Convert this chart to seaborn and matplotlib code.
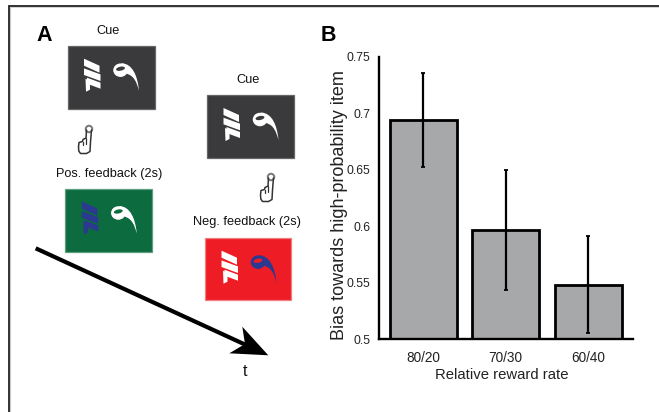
import matplotlib
matplotlib.use("Agg")
import matplotlib.pyplot as plt
import pandas as pd
import seaborn as sns
from matplotlib.patches import Ellipse, PathPatch, Polygon, Rectangle
from matplotlib.path import Path

# panel B values
categories = ["80/20", "70/30", "60/40"]
bias = [0.694, 0.597, 0.548]
err_low = [0.6525, 0.544, 0.506]
err_high = [0.736, 0.650, 0.591]
y_ticks = [0.5, 0.55, 0.6, 0.65, 0.7, 0.75]
y_tick_labels = ["0.5", "0.55", "0.6", "0.65", "0.7", "0.75"]

W, H = 659, 412
DARK = "#3a3a3c"
GREEN = "#0c6b3f"
RED = "#ee1c25"
BLUE = "#2b3990"
WHITE = "#ffffff"

sns.set_style("white")
plt.rcParams["font.family"] = ["Liberation Sans", "DejaVu Sans"]

fig = plt.figure(figsize=(W / 100, H / 100), dpi=100)
bg = fig.add_axes([0, 0, 1, 1])
bg.set_xlim(0, W)
bg.set_ylim(H, 0)
bg.axis("off")


def stimulus(x, y, w, h, face, left, right, edge):
    bg.add_patch(Rectangle((x, y), w, h, facecolor=face, edgecolor=edge, lw=0.9))
    # left glyph: three slanted strokes and a foot
    strokes = [((16.5, 16.5), (32, 23.5), 3.5), ((16.5, 26), (33, 32), 3.3), ((19.5, 35), (33, 40), 3.0)]
    for (x0, y0), (x1, y1), t in strokes:
        bg.add_patch(Polygon([(x + x0, y + y0 - t), (x + x1, y + y1 - t), (x + x1, y + y1 + t), (x + x0, y + y0 + t)],
                             facecolor=left, edgecolor="none"))
    bg.add_patch(Polygon([(x + 18, y + 33), (x + 22.5, y + 35), (x + 22.5, y + 44), (x + 18.5, y + 46)],
                         facecolor=left, edgecolor="none"))
    # right glyph: ring with a curved tail
    verts = [(x + 54, y + 17.5), (x + 65, y + 18), (x + 70, y + 30), (x + 71.5, y + 45),
             (x + 69, y + 36), (x + 66.5, y + 30), (x + 59, y + 28), (x + 54, y + 17.5)]
    codes = [Path.MOVETO, Path.CURVE4, Path.CURVE4, Path.CURVE4, Path.CURVE4, Path.CURVE4, Path.CURVE4, Path.CLOSEPOLY]
    bg.add_patch(PathPatch(Path(verts, codes), facecolor=right, edgecolor="none"))
    bg.add_patch(Ellipse((x + 53, y + 24.5), 14.5, 13.5, facecolor=right, edgecolor="none"))
    bg.add_patch(Ellipse((x + 53, y + 23), 9, 4, angle=-12, facecolor=face, edgecolor="none"))


def hand(x, y):
    outline = [(8.5, 5), (8, 13), (5, 14.5), (4.5, 16.5), (1, 17.5), (0.5, 22), (0.8, 26), (2.5, 28.5), (8.5, 28.5),
               (12, 26.5), (12.5, 17), (13.5, 5)]
    bg.plot([x + p[0] for p in outline], [y + p[1] for p in outline], color="#333333", lw=1.1,
            solid_joinstyle="round")
    bg.plot([x + 4.5, x + 4.5], [y + 16.5, y + 20], color="#333333", lw=0.9)
    bg.plot([x + 8, x + 8], [y + 13, y + 19], color="#333333", lw=0.9)
    bg.add_patch(Ellipse((x + 11, y + 4), 6.5, 6.5, facecolor="none", edgecolor="#777777", lw=1.4))


# frame of the figure
bg.plot([9.6, 9.6], [7, H], color="#c8c8c8", lw=0.8)
bg.plot([8.5, 8.5, W], [H, 6, 6], color="#222222", lw=1.3, solid_joinstyle="miter")
bg.plot([9.6, W], [7.4, 7.4], color="#d5d5d5", lw=0.7)

stimulus(67.5, 45.7, 87, 63.3, DARK, WHITE, WHITE, "#666666")
stimulus(207, 95, 87, 63, DARK, WHITE, WHITE, "#666666")
stimulus(65.3, 188.5, 86.4, 63, GREEN, BLUE, WHITE, "#5f9f80")
stimulus(205, 237.7, 86, 62.3, RED, WHITE, BLUE, "#f08080")
hand(78, 125)
hand(260, 173)

bg.plot([35.7, 246], [248.3, 345], color="black", lw=3.0, solid_capstyle="butt")
bg.add_patch(Polygon([(268.3, 355.3), (242.3, 326.7), (245, 344), (229.3, 353.3)], facecolor="black", edgecolor="none"))

for tx, ty, s in [(108, 30.7, "Cue"), (248, 80, "Cue"), (109, 174, "Pos. feedback (2s)"),
                  (246.7, 222.3, "Neg. feedback (2s)")]:
    bg.text(tx, ty, s, ha="center", va="center", fontsize=9.2, color="#111111")
bg.text(245, 371.5, "t", ha="center", va="center", fontsize=11.5, color="#111111")
bg.text(44, 35, "A", ha="center", va="center", fontsize=15.5, fontweight="bold", color="black")
bg.text(328, 35, "B", ha="center", va="center", fontsize=15.5, fontweight="bold", color="black")

# panel B
left, right, top, bottom = 379, 632.7, 56.7, 339.3
ax = fig.add_axes([left / W, 1 - bottom / H, (right - left) / W, (bottom - top) / H])
ax.patch.set_visible(False)
df = pd.DataFrame({"rate": categories, "bias": bias})
sns.barplot(data=df, x="rate", y="bias", color="#a7a8aa", saturation=1, width=0.81,
            edgecolor="black", linewidth=2.0, errorbar=None, ax=ax)
lower = [b - e for b, e in zip(bias, err_low)]
upper = [e - b for b, e in zip(bias, err_high)]
ax.errorbar(range(len(categories)), bias, yerr=[lower, upper], fmt="none", ecolor="black",
            elinewidth=1.6, capsize=1.3, capthick=1.3, clip_on=False, zorder=5)
ax.set_xlim(-0.532, 2.535)
ax.set_ylim(0.5, 0.75)
ax.set_yticks(y_ticks)
ax.set_yticklabels(y_tick_labels, fontsize=8.8, color="#222222")
ax.tick_params(axis="x", labelsize=9.8, labelcolor="#222222", length=0, pad=8.5)
ax.tick_params(axis="y", length=0, pad=6)
ax.set_xlabel("Relative reward rate", fontsize=10.7, color="#222222", labelpad=2, x=0.484)
ax.set_ylabel("Bias towards high-probability item", fontsize=13, color="#222222", labelpad=-1, y=0.476)
for side in ["top", "right"]:
    ax.spines[side].set_visible(False)
for side in ["left", "bottom"]:
    ax.spines[side].set_linewidth(1.7)
    ax.spines[side].set_color("black")

fig.savefig("out.png", dpi=100)
